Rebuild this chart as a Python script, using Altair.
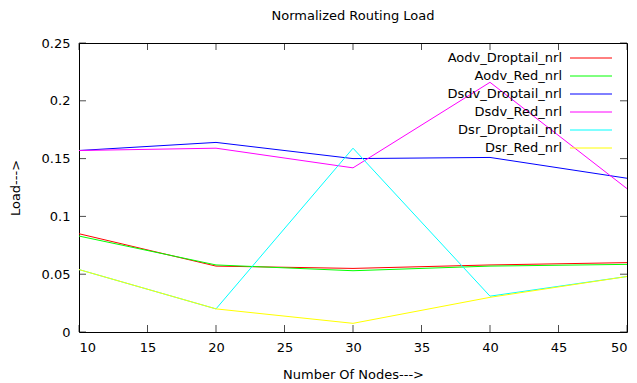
import altair as alt
import pandas as pd

nodes = [10, 20, 30, 40, 50]
series_names = ["Aodv_Droptail_nrl", "Aodv_Red_nrl", "Dsdv_Droptail_nrl",
                "Dsdv_Red_nrl", "Dsr_Droptail_nrl", "Dsr_Red_nrl"]
aodv_droptail = [0.085, 0.057, 0.055, 0.058, 0.060]
aodv_red = [0.083, 0.058, 0.053, 0.057, 0.0585]
dsdv_droptail = [0.157, 0.164, 0.150, 0.151, 0.133]
dsdv_red = [0.157, 0.159, 0.142, 0.216, 0.124]
dsr_droptail = [0.054, 0.020, 0.159, 0.031, 0.048]
dsr_red = [0.054, 0.020, 0.0075, 0.030, 0.048]
series_colors = ["#ff0000", "#00ff00", "#0000ff", "#ff00ff", "#00ffff", "#ffff00"]

x_ticks = [10, 15, 20, 25, 30, 35, 40, 45, 50]
y_ticks = [0, 0.05, 0.1, 0.15, 0.2, 0.25]

values = [aodv_droptail, aodv_red, dsdv_droptail, dsdv_red, dsr_droptail, dsr_red]
rows = []
for name, vals in zip(series_names, values):
    for n, v in zip(nodes, vals):
        rows.append({"nodes": n, "load": v, "series": name})
df = pd.DataFrame(rows)
xt = pd.DataFrame({"t": x_ticks})
yt = pd.DataFrame({"t": y_ticks})

W, H = 548, 289
FONT = "DejaVu Sans"

xscale = alt.Scale(domain=[10, 50], nice=False, zero=False)
yscale = alt.Scale(domain=[0, 0.25], nice=False)

lines = alt.Chart(df).mark_line(strokeWidth=1).encode(
    x=alt.X("nodes:Q", scale=xscale,
            axis=alt.Axis(values=x_ticks, format="d", title="Number Of Nodes--->",
                          titleY=42, titleBaseline="middle")),
    y=alt.Y("load:Q", scale=yscale,
            axis=alt.Axis(values=y_ticks, format="~g", title="Load--->",
                          titleX=-64, titleBaseline="middle")),
    color=alt.Color("series:N",
                    scale=alt.Scale(domain=series_names, range=series_colors),
                    sort=series_names,
                    legend=alt.Legend(title=None, orient="none", legendX=493, legendY=4,
                                      symbolType="M-2,0H2", symbolSize=441,
                                      symbolStrokeWidth=1, symbolOffset=8,
                                      symbolFillColor="transparent",
                                      labelAlign="right",
                                      labelOffset={"expr": "-40"}, padding=0,
                                      rowPadding=0,
                                      labelFont=FONT, labelFontSize=13,
                                      labelColor="black", labelLimit=300)),
    order=alt.Order("nodes:Q"),
)

tick_bottom = alt.Chart(xt).mark_tick(orient="vertical", color="black", size=7, thickness=1).encode(
    x=alt.X("t:Q", scale=xscale), y=alt.value(H - 3.5))
tick_top = alt.Chart(xt).mark_tick(orient="vertical", color="black", size=7, thickness=1).encode(
    x=alt.X("t:Q", scale=xscale), y=alt.value(3.5))
tick_left = alt.Chart(yt).mark_tick(orient="horizontal", color="black", size=7, thickness=1).encode(
    y=alt.Y("t:Q", scale=yscale), x=alt.value(3.5))
tick_right = alt.Chart(yt).mark_tick(orient="horizontal", color="black", size=7, thickness=1).encode(
    y=alt.Y("t:Q", scale=yscale), x=alt.value(W - 3.5))

chart = alt.layer(lines, tick_bottom, tick_top, tick_left, tick_right).properties(
    width=W, height=H,
    title=alt.TitleParams("Normalized Routing Load", font=FONT, fontSize=13,
                          fontWeight="normal", color="black", anchor="middle", offset=14),
    autosize=alt.AutoSizeParams(type="none"),
    padding={"left": 71, "top": 35, "right": 2, "bottom": 50},
).configure(background="white").configure_view(stroke="black", strokeWidth=1).configure_axis(
    domain=False, ticks=False, grid=False, labelFont=FONT, labelFontSize=13,
    labelColor="black", labelPadding=9, titleFont=FONT, titleFontSize=13,
    titleFontWeight="normal", titleColor="black",
)

chart.save("out.html", embed_options={"renderer": "svg", "actions": False})
